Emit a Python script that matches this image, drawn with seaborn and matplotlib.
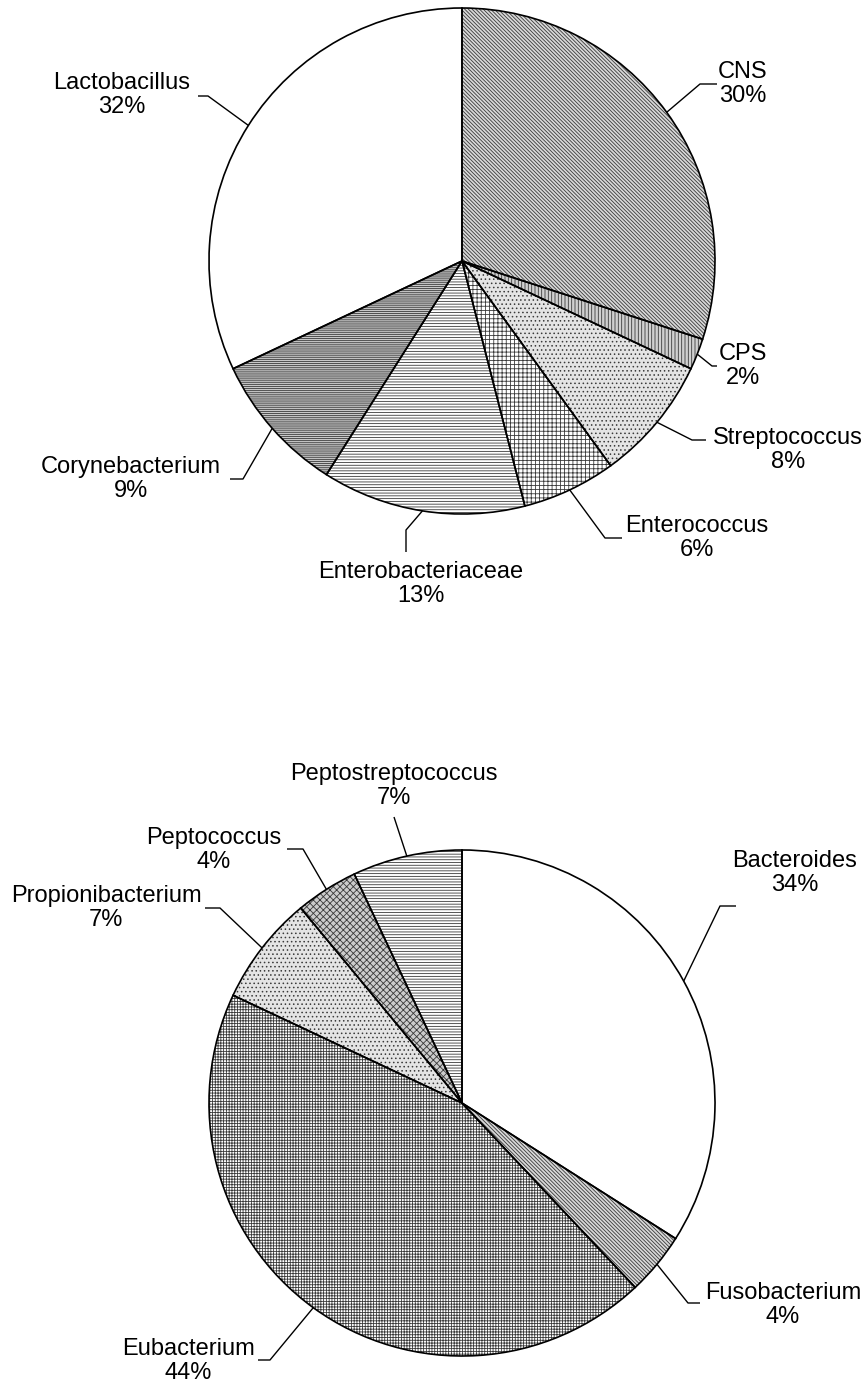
import numpy as np
import matplotlib
matplotlib.use("Agg")
import matplotlib.pyplot as plt
import seaborn as sns

# data: share of isolates (%)
aerobe_names = ['CNS', 'CPS', 'Streptococcus', 'Enterococcus',
                'Enterobacteriaceae', 'Corynebacterium', 'Lactobacillus']
aerobe_share = [30, 2, 8, 6, 13, 9, 32]

anaerobe_names = ['Bacteroides', 'Fusobacterium', 'Eubacterium',
                  'Propionibacterium', 'Peptococcus', 'Peptostreptococcus']
anaerobe_share = [34, 4, 44, 7, 4, 7]

# look of each wedge: (face colour, hatch)
aerobe_style = [('#d8d8d8', '\\' * 9), ('#d0d0d0', '|' * 5), ('#e4e4e4', '.' * 4),
                ('white', '+' * 4), ('white', '-' * 6), ('#c8c8c8', '-' * 8),
                ('white', '')]
anaerobe_style = [('white', ''), ('#d8d8d8', '\\' * 9), ('white', '+' * 6),
                  ('#e4e4e4', '.' * 4), ('#cccccc', 'x' * 5), ('white', '-' * 6)]

# label placement in pixels: text centre, elbow, end of leader
aerobe_pos = [((743, 84), (700, 84), (717, 84)),
              ((743, 366), (712, 366), (717, 366)),
              ((788, 450), (692, 440), (706, 440)),
              ((697, 538), (605, 538), (622, 538)),
              ((421, 584), (406, 530), (406, 552)),
              ((131, 479), (243, 479), (230, 479)),
              ((122, 95), (208, 96), (198, 96))]
anaerobe_pos = [((795, 873), (720, 906), (736, 906)),
                ((783, 1305), (688, 1303), (700, 1303)),
                ((188, 1361), (270, 1360), (258, 1360)),
                ((106, 908), (220, 908), (205, 908)),
                ((214, 850), (303, 849), (287, 849)),
                ((394, 786), (394, 817), (394, 817))]

W, H = 868, 1389
R = 253

sns.set_style("white")
plt.rcParams['font.family'] = ['Liberation Sans', 'DejaVu Sans']
plt.rcParams['hatch.linewidth'] = 0.6

fig = plt.figure(figsize=(W / 100, H / 100), dpi=100)
ax = fig.add_axes([0, 0, 1, 1])


def Y(py):
    return H - py


def draw_pie(center, shares, names, styles, positions):
    cx, cy = center[0], Y(center[1])
    faces = [s[0] for s in styles]
    # hatched fill; hatch takes the edge colour
    wedges, _ = ax.pie(shares, colors=faces, startangle=90, counterclock=False,
                       radius=R, center=(cx, cy), frame=True,
                       wedgeprops=dict(edgecolor='#3a3a3a', linewidth=0))
    for w, s in zip(wedges, styles):
        w.set_hatch(s[1])
    # outlines on top
    ax.pie(shares, colors=['none'] * len(shares), startangle=90,
           counterclock=False, radius=R, center=(cx, cy), frame=True,
           wedgeprops=dict(edgecolor='black', linewidth=1.2, fill=False))
    total = sum(shares)
    start = 90.0
    for v, name, (txt, elbow, end) in zip(shares, names, positions):
        span = 360.0 * v / total
        mid = np.deg2rad(start - span / 2)
        start -= span
        ex, ey = cx + R * np.cos(mid), cy + R * np.sin(mid)
        ax.plot([ex, elbow[0], end[0]], [ey, Y(elbow[1]), Y(end[1])],
                color='black', lw=1.0, solid_capstyle='butt')
        ax.text(txt[0], Y(txt[1]), f"{name}\n{v}%", ha='center', va='center',
                fontsize=17, linespacing=1.12, color='black')


draw_pie((462, 261), aerobe_share, aerobe_names, aerobe_style, aerobe_pos)
draw_pie((462, 1103), anaerobe_share, anaerobe_names, anaerobe_style, anaerobe_pos)

ax.set_xlim(0, W)
ax.set_ylim(0, H)
ax.set_aspect('auto')
ax.axis('off')

fig.savefig('out.png', dpi=100, facecolor='white')
